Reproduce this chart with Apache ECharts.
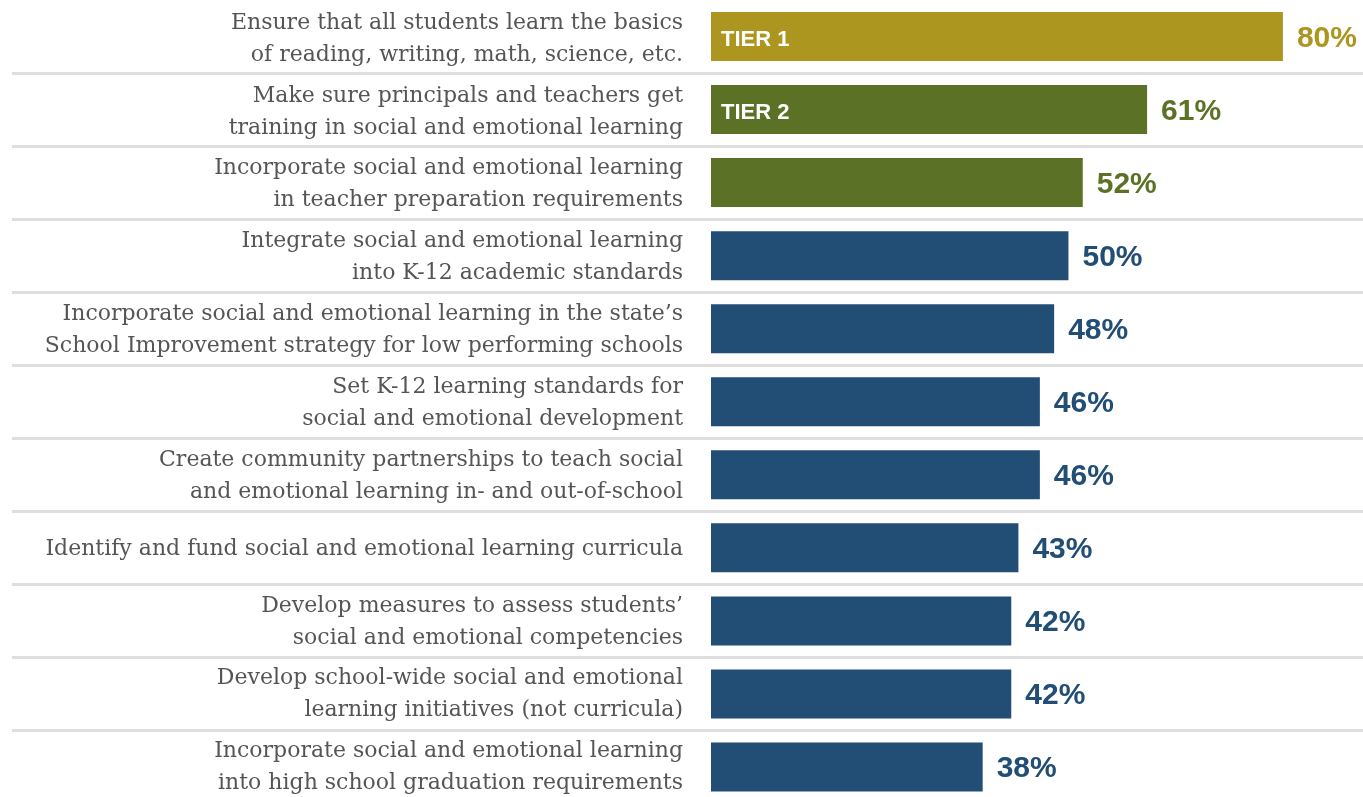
<!DOCTYPE html>
<html lang="en">
<head>
    <meta charset="UTF-8">
    <title>State policy priorities</title>
    <style>
        html, body { margin: 0; padding: 0; background: #fff; overflow: hidden; }
        #container { width: 1363px; height: 804px; }
    </style>
</head>
<body>
    <div id="container"></div>
    <script src="https://cdn.jsdelivr.net/npm/echarts@6/dist/echarts.min.js"></script>
    <script>
        // survey items, top to bottom
        var categories = [
            'Ensure that all students learn the basics\nof reading, writing, math, science, etc.',
            'Make sure principals and teachers get\ntraining in social and emotional learning',
            'Incorporate social and emotional learning\nin teacher preparation requirements',
            'Integrate social and emotional learning\ninto K-12 academic standards',
            'Incorporate social and emotional learning in the state\u2019s\nSchool Improvement strategy for low performing schools',
            'Set K-12 learning standards for\nsocial and emotional development',
            'Create community partnerships to teach social\nand emotional learning in- and out-of-school',
            'Identify and fund social and emotional learning curricula',
            'Develop measures to assess students\u2019\nsocial and emotional competencies',
            'Develop school-wide social and emotional\nlearning initiatives (not curricula)',
            'Incorporate social and emotional learning\ninto high school graduation requirements'
        ];
        var values = [80, 61, 52, 50, 48, 46, 46, 43, 42, 42, 38];
        var tiers = [1, 2, 2, 3, 3, 3, 3, 3, 3, 3, 3];

        var tierColor = { 1: '#ad961f', 2: '#5b7226', 3: '#224d75' };

        // put "TIER n" on the first bar of tier 1 and tier 2
        function tierName(idx) {
            var t = tiers[idx];
            if (t > 2) return '';
            if (idx > 0 && tiers[idx - 1] === t) return '';
            return 'TIER ' + t;
        }

        var myChart = echarts.init(document.getElementById('container'));

        var hidden = { axisLine: { show: false }, axisTick: { show: false } };

        var option = {
            animation: false,
            grid: [
                // bars
                { left: 711, right: 0, top: -0.5, height: 804, containLabel: false },
                // row separators, full width
                { left: 12, right: 0, top: -0.5, height: 804, containLabel: false },
                // category text, nudged down a little
                { left: 711, right: 0, top: 2.5, height: 804, containLabel: false }
            ],
            xAxis: [
                { type: 'value', gridIndex: 0, min: 0, max: 91.2, show: false },
                { type: 'value', gridIndex: 1, min: 0, max: 1, show: false },
                { type: 'value', gridIndex: 2, min: 0, max: 1, show: false }
            ],
            yAxis: [{
                type: 'category',
                gridIndex: 0,
                inverse: true,
                data: categories,
                axisLine: hidden.axisLine,
                axisTick: hidden.axisTick,
                axisLabel: { show: false },
                splitLine: { show: false }
            }, {
                type: 'category',
                gridIndex: 1,
                inverse: true,
                data: categories,
                axisLine: hidden.axisLine,
                axisTick: hidden.axisTick,
                axisLabel: { show: false },
                splitLine: {
                    show: true,
                    interval: function (idx) { return idx > 0; },
                    lineStyle: { color: '#dedede', width: 3 }
                }
            }, {
                type: 'category',
                gridIndex: 2,
                inverse: true,
                data: categories,
                axisLine: hidden.axisLine,
                axisTick: hidden.axisTick,
                splitLine: { show: false },
                axisLabel: {
                    margin: 28,
                    align: 'right',
                    color: '#555555',
                    fontFamily: 'DejaVu Serif',
                    fontSize: 22,
                    lineHeight: 32
                }
            }],
            series: [{
                type: 'bar',
                xAxisIndex: 0,
                yAxisIndex: 0,
                barWidth: 49,
                data: values.map(function (v, i) {
                    return {
                        value: v,
                        itemStyle: { color: tierColor[tiers[i]] },
                        label: { color: tierColor[tiers[i]] }
                    };
                }),
                label: {
                    show: true,
                    position: 'right',
                    distance: 14,
                    offset: [0, 2],
                    formatter: '{c}%',
                    fontFamily: 'Liberation Sans',
                    fontWeight: 'bold',
                    fontSize: 30
                }
            }, {
                type: 'bar',
                xAxisIndex: 0,
                yAxisIndex: 0,
                barWidth: 49,
                barGap: '-100%',
                silent: true,
                itemStyle: { color: 'rgba(0,0,0,0)' },
                data: values,
                label: {
                    show: true,
                    position: 'insideLeft',
                    distance: 10,
                    offset: [0, 3],
                    formatter: function (p) { return tierName(p.dataIndex); },
                    color: '#ffffff',
                    fontFamily: 'Liberation Sans',
                    fontWeight: 'bold',
                    fontSize: 22
                }
            }]
        };

        myChart.setOption(option);
    </script>
</body>
</html>
